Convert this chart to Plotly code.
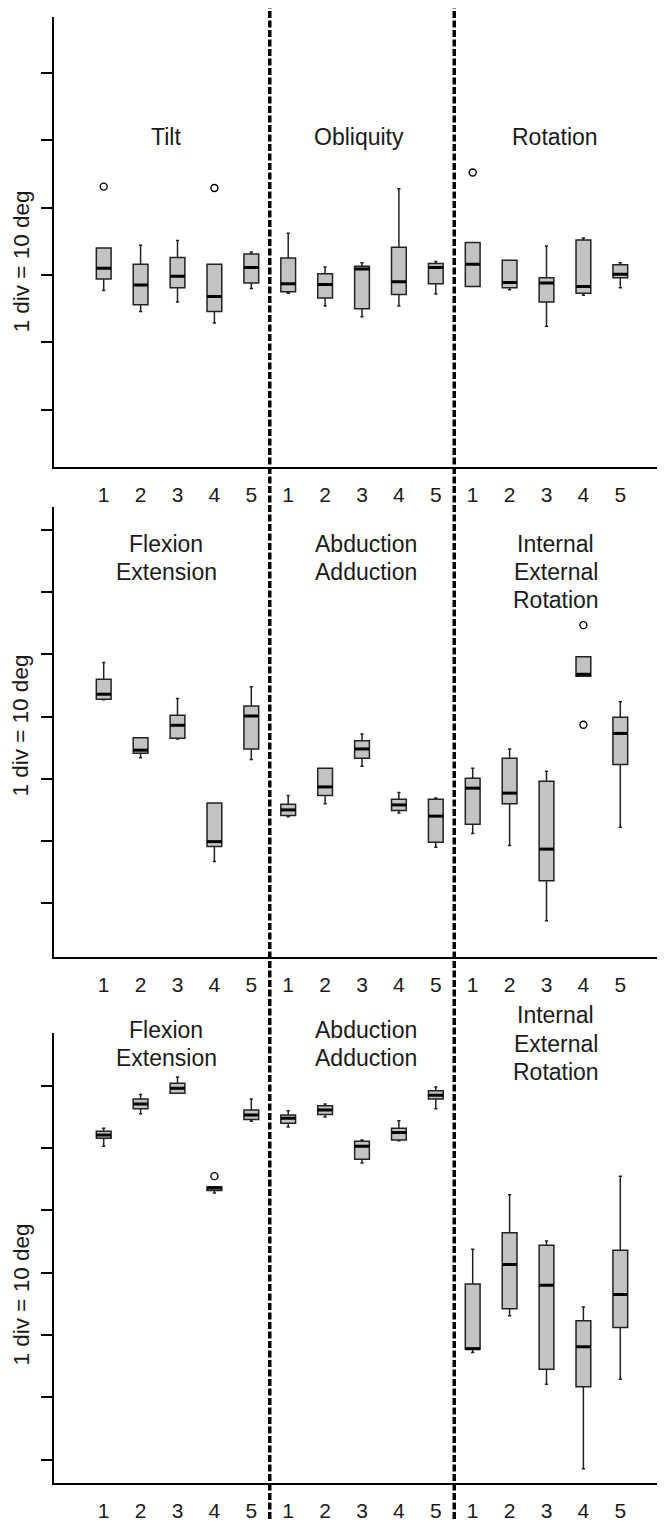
import plotly.graph_objects as go

# ---------------- data (values in degrees, 1 div = 10 deg) ----------------
positions = list(range(1, 16))
tick_text = ["1", "2", "3", "4", "5"] * 3

# Panel 1: Tilt / Obliquity / Rotation
p1_lo = [27.7, 24.6, 26.0, 22.9, 28.0, 27.3, 25.4, 23.8, 25.4, 27.2, 28.3, 27.8, 22.4, 27.0, 28.1]
p1_q1 = [29.4, 25.6, 28.1, 24.6, 28.8, 27.5, 26.6, 25.0, 27.1, 28.7, 28.3, 28.1, 26.0, 27.3, 29.6]
p1_med = [31.0, 28.5, 29.8, 26.8, 31.1, 28.7, 28.6, 30.9, 29.0, 31.1, 31.6, 28.9, 28.8, 28.3, 30.1]
p1_q3 = [34.0, 31.6, 32.6, 31.6, 33.1, 32.5, 30.2, 31.3, 34.1, 31.7, 34.8, 32.2, 29.6, 35.2, 31.5]
p1_hi = [34.0, 34.4, 35.1, 31.6, 33.4, 36.2, 31.2, 31.8, 42.8, 32.0, 34.8, 32.2, 34.3, 35.5, 31.8]
p1_out_x = [1, 4, 11]
p1_out_y = [43.1, 42.9, 45.2]

# Panel 2: Flexion-Extension / Abduction-Adduction / Internal-External Rotation
p2_lo = [42.7, 33.4, 36.4, 16.7, 33.1, 23.9, 26.0, 32.0, 24.5, 19.0, 21.2, 19.3, 7.2, 46.5, 22.2]
p2_q1 = [42.8, 34.1, 36.5, 19.1, 34.8, 24.1, 27.3, 33.3, 24.9, 19.8, 22.7, 26.0, 13.6, 46.5, 32.3]
p2_med = [43.6, 34.6, 38.6, 19.9, 40.1, 25.0, 28.7, 34.8, 25.8, 24.0, 28.5, 27.7, 18.7, 46.8, 37.3]
p2_q3 = [46.0, 36.6, 40.2, 26.1, 41.7, 25.9, 31.7, 36.1, 26.7, 26.7, 30.1, 33.3, 29.6, 49.6, 39.9]
p2_hi = [48.7, 36.6, 42.9, 26.1, 44.8, 27.3, 31.7, 37.2, 27.8, 26.9, 31.7, 34.8, 31.2, 49.6, 42.4]
p2_out_x = [14, 14]
p2_out_y = [54.7, 38.7]

# Panel 3: Flexion-Extension / Abduction-Adduction / Internal-External Rotation
p3_lo = [60.3, 65.5, 68.8, 52.8, 64.3, 63.4, 65.0, 57.6, 61.2, 66.3, 27.2, 33.1, 22.1, 8.5, 22.9]
p3_q1 = [61.6, 66.3, 68.8, 53.2, 64.6, 64.0, 65.4, 58.2, 61.3, 67.9, 27.7, 34.2, 24.5, 21.7, 31.2]
p3_med = [62.1, 67.1, 69.6, 53.6, 65.3, 64.8, 66.1, 60.3, 62.5, 68.5, 27.8, 41.3, 38.0, 28.1, 36.5]
p3_q3 = [62.7, 67.9, 70.4, 53.8, 66.1, 65.3, 66.8, 61.1, 63.2, 69.2, 38.2, 46.4, 44.4, 32.3, 43.6]
p3_hi = [63.2, 68.6, 71.4, 53.8, 67.9, 66.0, 67.1, 61.3, 64.4, 69.8, 43.75, 52.5, 45.1, 34.5, 55.5]
p3_out_x = [4]
p3_out_y = [55.5]

p1_titles = [["Tilt"], ["Obliquity"], ["Rotation"]]
p23_titles = [["Flexion", "Extension"], ["Abduction", "Adduction"], ["Internal", "External", "Rotation"]]
y_label = "1 div = 10 deg"
p1_ticks = [10, 20, 30, 40, 50, 60]
p23_ticks = [10, 20, 30, 40, 50, 60, 70]
separators = [5.5, 10.5]

# ---------------- layout constants ----------------
PAGE_W, PAGE_H = 665, 1522
OFF = 8                       # default body margin of the html page
W, H = PAGE_W - OFF, PAGE_H - OFF
FONT = "Liberation Sans, Arial, sans-serif"
TXT = "#1a1a1a"
BOX_W = 0.4
X_LEFT_PX = 54
x0_px, dx_px = 103.7, 36.9
x_range = [1 + (X_LEFT_PX - x0_px) / dx_px, 1 + (PAGE_W - x0_px) / dx_px]


def px_x(v):
    return (v - OFF) / W


def px_y(v):
    return 1 - (v - OFF) / H


panels = [
    dict(lo=p1_lo, q1=p1_q1, med=p1_med, q3=p1_q3, hi=p1_hi, ox=p1_out_x, oy=p1_out_y,
         top=17.3, bot=467.7, yr=[1.57, 68.2], ticks=p1_ticks, ylab=262),
    dict(lo=p2_lo, q1=p2_q1, med=p2_med, q3=p2_q3, hi=p2_hi, ox=p2_out_x, oy=p2_out_y,
         top=508.3, bot=959, yr=[1.34, 73.64], ticks=p23_ticks, ylab=727),
    dict(lo=p3_lo, q1=p3_q1, med=p3_med, q3=p3_q3, hi=p3_hi, ox=p3_out_x, oy=p3_out_y,
         top=1034.6, bot=1485.5, yr=[6.3, 78.55], ticks=p23_ticks, ylab=1297),
]

fig = go.Figure()
layout = dict(width=W, height=H, margin=dict(l=0, r=0, t=0, b=0), autosize=False,
              paper_bgcolor="white", plot_bgcolor="white", showlegend=False,
              font=dict(family=FONT, color=TXT))
annotations = []

for i, p in enumerate(panels):
    sfx = "" if i == 0 else str(i + 1)
    xa, ya = "x" + sfx, "y" + sfx
    fig.add_trace(go.Box(
        x=positions, q1=p["q1"], median=p["med"], q3=p["q3"],
        lowerfence=p["lo"], upperfence=p["hi"],
        width=BOX_W, whiskerwidth=0.22, boxpoints=False,
        fillcolor="#c3c3c3", line=dict(color="#222222", width=1.5),
        xaxis=xa, yaxis=ya, hoverinfo="skip"))
    mx, my = [], []
    for pos, m in zip(positions, p["med"]):
        mx += [pos - BOX_W / 2, pos + BOX_W / 2, None]
        my += [m, m, None]
    fig.add_trace(go.Scatter(x=mx, y=my, mode="lines", line=dict(color="black", width=3),
                             xaxis=xa, yaxis=ya, hoverinfo="skip"))
    fig.add_trace(go.Scatter(x=p["ox"], y=p["oy"], mode="markers",
                             marker=dict(symbol="circle-open", size=7, color="black",
                                         line=dict(width=1.4)),
                             xaxis=xa, yaxis=ya, hoverinfo="skip"))
    dom = [px_y(p["bot"]), px_y(p["top"])]
    layout["xaxis" + sfx] = dict(domain=[px_x(X_LEFT_PX), 1], range=x_range, anchor=ya,
                                 showline=True, linecolor="black", linewidth=2,
                                 tickvals=positions, ticktext=tick_text,
                                 ticks="outside", ticklen=8, tickcolor="rgba(0,0,0,0)",
                                 tickfont=dict(size=21, color=TXT, family=FONT),
                                 showgrid=False, zeroline=False, fixedrange=True)
    layout["yaxis" + sfx] = dict(domain=dom, range=p["yr"], anchor=xa,
                                 showline=True, linecolor="black", linewidth=2,
                                 tickvals=p["ticks"], ticks="outside", ticklen=11, tickwidth=2,
                                 tickcolor="black", showticklabels=False,
                                 showgrid=False, zeroline=False, fixedrange=True)
    annotations.append(dict(text=y_label, x=px_x(21), y=px_y(p["ylab"]), xref="paper", yref="paper",
                            xanchor="center", yanchor="middle", textangle=-90, showarrow=False,
                            font=dict(size=22.5, family=FONT, color=TXT)))

# group titles (pixel centres of each text line)
title_x_px = [166, 359, 555]
p1_line_y = [[137.7], [137.7], [137.7]]
p2_title_x_px = [166, 366, 555.5]
p2_line_y = [[545, 572.7], [545, 572.7], [545, 572.7, 600.7]]
p3_line_y = [[1032.1, 1059.9], [1032.1, 1059.9], [1017.2, 1046, 1074.4]]
for titles, xs, ys in [(p1_titles, title_x_px, p1_line_y),
                       (p23_titles, p2_title_x_px, p2_line_y),
                       (p23_titles, p2_title_x_px, p3_line_y)]:
    for lines, xp, yl in zip(titles, xs, ys):
        for t, yp in zip(lines, yl):
            annotations.append(dict(text=t, x=px_x(xp), y=px_y(yp), xref="paper", yref="paper",
                                    xanchor="center", yanchor="middle", showarrow=False,
                                    font=dict(size=23, family=FONT, color=TXT)))

layout["annotations"] = annotations
layout["shapes"] = [dict(type="line", xref="x", yref="paper", x0=s, x1=s, y0=0, y1=1,
                         line=dict(color="black", width=3.5, dash="7px,2.5px"), layer="above")
                    for s in separators]
fig.update_layout(**layout)
fig.write_html("out.html")
